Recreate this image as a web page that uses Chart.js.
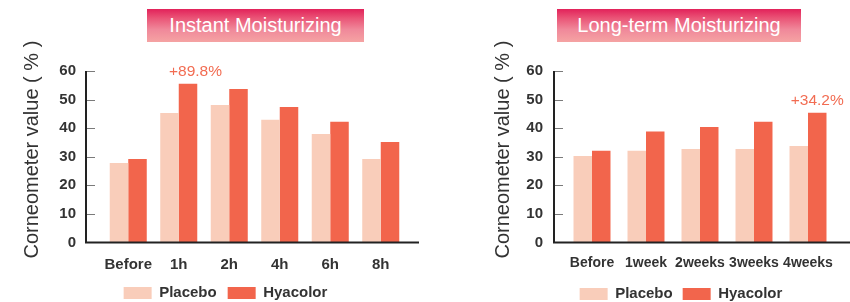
<!DOCTYPE html>
<html><head><meta charset="utf-8">
<script src="https://cdn.jsdelivr.net/npm/chart.js@4"></script>
<style>
html,body{margin:0;padding:0;background:#fff;overflow:hidden;width:850px;height:302px;}
canvas{position:absolute;top:0;}
#c1{left:0;}
#c2{left:425px;}
.ttl{position:absolute;top:9px;height:33px;line-height:33px;color:#fff;font-family:"Liberation Sans",Arial,sans-serif;font-size:20px;text-align:center;
background:linear-gradient(to bottom,#e2225a 0%,#ea5577 28%,#f0889a 62%,#f5a3a3 100%);}
#t1{left:147px;width:217px;}
#t2{left:557px;width:244px;}
</style>
</head><body>
<canvas id="c1" width="425" height="302"></canvas>
<canvas id="c2" width="425" height="302"></canvas>
<div class="ttl" id="t1">Instant Moisturizing</div>
<div class="ttl" id="t2">Long-term Moisturizing</div>
<script>
// ---- data ----
const seriesNames = ['Placebo', 'Hyacolor'];
const categoriesA = ['Before', '1h', '2h', '4h', '6h', '8h'];
const placeboA = [27.8, 45.3, 48.1, 42.9, 38.0, 29.2];
const hyacolorA = [29.2, 55.5, 53.7, 47.4, 42.2, 35.2];
const categoriesB = ['Before', '1week', '2weeks', '3weeks', '4weeks'];
const placeboB = [30.3, 32.1, 32.7, 32.7, 33.8];
const hyacolorB = [32.1, 38.8, 40.4, 42.2, 45.4];
const yTicks = [0, 10, 20, 30, 40, 50, 60];
const yAxisTitle = 'Corneometer value ( % )';
const noteIndexA = [1];
const noteTextA = ['+89.8%'];
const noteIndexB = [4];
const noteTextB = ['+34.2%'];

const FONT = '"Liberation Sans", Arial, Helvetica, sans-serif';
const COL_P = '#f9cdba';
const COL_H = '#f2654c';

const axisFrame = {
  id: 'axisFrame',
  afterDatasetsDraw(chart, args, o) {
    const {ctx, chartArea: a, scales: {y}} = chart;
    const x0 = a.left - o.leftGap;
    const yTop = y.getPixelForValue(yTicks[yTicks.length - 1]);
    const yBot = y.getPixelForValue(0);
    ctx.save();
    ctx.strokeStyle = '#7a7a7a';
    ctx.lineWidth = 1;
    yTicks.forEach(v => {
      if (v === 0) return;
      const py = Math.round(y.getPixelForValue(v)) + 0.5;
      ctx.beginPath(); ctx.moveTo(x0, py); ctx.lineTo(x0 + o.tick, py); ctx.stroke();
    });
    ctx.strokeStyle = '#222';
    ctx.lineWidth = 2;
    ctx.beginPath();
    ctx.moveTo(x0, yTop); ctx.lineTo(x0, yBot); ctx.lineTo(a.right + o.rightExt, yBot);
    ctx.stroke();
    ctx.restore();
  }
};

const noteLabels = {
  id: 'noteLabels',
  afterDatasetsDraw(chart, args, o) {
    const meta = chart.getDatasetMeta(o.dataset);
    const ctx = chart.ctx;
    ctx.save();
    ctx.font = '15.5px ' + FONT;
    ctx.fillStyle = '#f26c52';
    ctx.textAlign = 'center';
    ctx.textBaseline = 'middle';
    o.index.forEach((idx, k) => {
      const el = meta.data[idx];
      ctx.fillText(o.text[k], el.x + o.dx, el.y - o.gap);
    });
    ctx.restore();
  }
};

const legendShift = {
  id: 'legendShift',
  afterLayout(chart, args, o) {
    const lg = chart.legend;
    if (!lg) return;
    lg.left += o.dx; lg.right += o.dx;
  }
};

function makeChart(id, cats, p, h, cfg) {
  return new Chart(document.getElementById(id), {
    type: 'bar',
    data: {
      labels: cats,
      datasets: [
        {label: seriesNames[0], data: p, backgroundColor: COL_P, borderWidth: 0},
        {label: seriesNames[1], data: h, backgroundColor: COL_H, borderWidth: 0}
      ]
    },
    plugins: [axisFrame, noteLabels, legendShift],
    options: {
      responsive: false,
      animation: false,
      devicePixelRatio: 1,
      categoryPercentage: cfg.catPct,
      barPercentage: 1.0,
      layout: {padding: {left: 0, right: cfg.padRight, top: 56.7, bottom: cfg.padBottom}},
      scales: {
        x: {
          grid: {display: false, drawTicks: false},
          border: {display: false},
          ticks: {font: {family: FONT, size: cfg.xFont, weight: 'bold'}, color: '#333', padding: cfg.xPad, autoSkip: false, maxRotation: 0},
          afterFit(s) { s.height = cfg.xHeight; }
        },
        y: {
          min: 0, max: 65,
          grid: {display: false, drawTicks: false},
          border: {display: false},
          afterBuildTicks(s) { s.ticks = yTicks.map(v => ({value: v})); },
          ticks: {font: {family: FONT, size: 15, weight: 'bold'}, color: '#333', padding: cfg.yPad},
          title: {display: true, text: yAxisTitle, color: '#333', font: {family: FONT, size: 20, weight: 'normal', lineHeight: 1.2}, padding: {top: cfg.titlePad, bottom: 0}},
          afterFit(s) { s.width = cfg.yWidth; }
        }
      },
      plugins: {
        legend: {
          position: 'bottom',
          labels: {boxWidth: 28, boxHeight: 12, padding: cfg.legPad, color: '#333', font: {family: FONT, size: 15, weight: 'bold'}}
        },
        tooltip: {enabled: false},
        axisFrame: {leftGap: cfg.leftGap, tick: 9, rightExt: cfg.rightExt},
        noteLabels: {dataset: 1, index: cfg.noteIdx, text: cfg.noteTxt, dx: cfg.noteDx, gap: 12},
        legendShift: {dx: cfg.legDx}
      }
    }
  });
}

makeChart('c1', categoriesA, placeboA, hyacolorA, {
  catPct: 0.733, padRight: 19, padBottom: -8.5, xFont: 15, xPad: 13.5, xHeight: 32, yPad: 27, titlePad: 20, yWidth: 103,
  legPad: 11, leftGap: 17, rightExt: 13, noteIdx: noteIndexA, noteTxt: noteTextA, noteDx: 7.5, legDx: 22.5
});
makeChart('c2', categoriesB, placeboB, hyacolorB, {
  catPct: 0.685, padRight: 15, padBottom: -9.5, xFont: 14, xPad: 12, xHeight: 34, yPad: 22, titlePad: 66, yWidth: 140,
  legPad: 10, leftGap: 11, rightExt: 15, noteIdx: noteIndexB, noteTxt: noteTextB, noteDx: 0, legDx: 51
});
</script>
</body></html>
